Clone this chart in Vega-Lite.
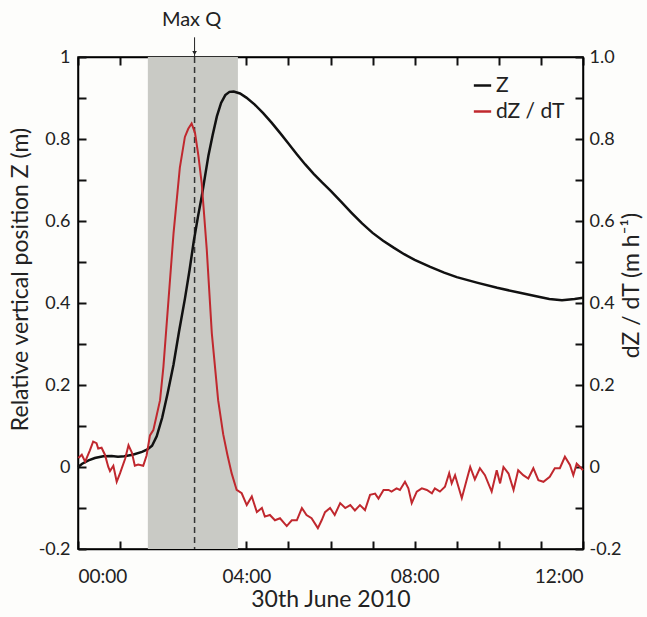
{
  "$schema": "https://vega.github.io/schema/vega-lite/v6.json",
  "width": 505,
  "height": 492,
  "autosize": "none",
  "padding": {"left": 78, "top": 57, "right": 64, "bottom": 68},
  "background": "#fdfdfb",
  "config": {
    "font": "Lato",
    "view": {"stroke": "black", "strokeWidth": 1.5},
    "axis": {
      "grid": false,
      "domainColor": "black",
      "domainWidth": 1.5,
      "labelFontSize": 18,
      "labelColor": "#222",
      "titleFontSize": 23,
      "titleFontWeight": "normal",
      "titleColor": "#222"
    }
  },
  "datasets": {
    "z": [
      {"t": 0, "v": 0.0, "s": "Z"},
      {"t": 0.1, "v": 0.008, "s": "Z"},
      {"t": 0.25, "v": 0.016, "s": "Z"},
      {"t": 0.4, "v": 0.022, "s": "Z"},
      {"t": 0.6, "v": 0.026, "s": "Z"},
      {"t": 0.8, "v": 0.027, "s": "Z"},
      {"t": 0.95, "v": 0.025, "s": "Z"},
      {"t": 1.1, "v": 0.026, "s": "Z"},
      {"t": 1.3, "v": 0.03, "s": "Z"},
      {"t": 1.52, "v": 0.037, "s": "Z"},
      {"t": 1.65, "v": 0.043, "s": "Z"},
      {"t": 1.76, "v": 0.052, "s": "Z"},
      {"t": 1.87, "v": 0.075, "s": "Z"},
      {"t": 2.0, "v": 0.12, "s": "Z"},
      {"t": 2.13, "v": 0.18, "s": "Z"},
      {"t": 2.27, "v": 0.25, "s": "Z"},
      {"t": 2.4, "v": 0.33, "s": "Z"},
      {"t": 2.54, "v": 0.41, "s": "Z"},
      {"t": 2.65, "v": 0.48, "s": "Z"},
      {"t": 2.75, "v": 0.55, "s": "Z"},
      {"t": 2.85, "v": 0.61, "s": "Z"},
      {"t": 2.94, "v": 0.66, "s": "Z"},
      {"t": 3.02, "v": 0.71, "s": "Z"},
      {"t": 3.1, "v": 0.76, "s": "Z"},
      {"t": 3.2, "v": 0.81, "s": "Z"},
      {"t": 3.3, "v": 0.855, "s": "Z"},
      {"t": 3.4, "v": 0.888, "s": "Z"},
      {"t": 3.5, "v": 0.907, "s": "Z"},
      {"t": 3.6, "v": 0.915, "s": "Z"},
      {"t": 3.7, "v": 0.916, "s": "Z"},
      {"t": 3.85, "v": 0.911, "s": "Z"},
      {"t": 4.0, "v": 0.901, "s": "Z"},
      {"t": 4.2, "v": 0.884, "s": "Z"},
      {"t": 4.4, "v": 0.863, "s": "Z"},
      {"t": 4.6, "v": 0.84, "s": "Z"},
      {"t": 4.8, "v": 0.815, "s": "Z"},
      {"t": 5.0, "v": 0.789, "s": "Z"},
      {"t": 5.2, "v": 0.763, "s": "Z"},
      {"t": 5.4, "v": 0.738, "s": "Z"},
      {"t": 5.6, "v": 0.715, "s": "Z"},
      {"t": 5.8, "v": 0.694, "s": "Z"},
      {"t": 6.0, "v": 0.674, "s": "Z"},
      {"t": 6.25, "v": 0.647, "s": "Z"},
      {"t": 6.5, "v": 0.62, "s": "Z"},
      {"t": 6.75, "v": 0.594, "s": "Z"},
      {"t": 7.0, "v": 0.571, "s": "Z"},
      {"t": 7.25, "v": 0.552, "s": "Z"},
      {"t": 7.5, "v": 0.535, "s": "Z"},
      {"t": 7.75, "v": 0.519, "s": "Z"},
      {"t": 8.0, "v": 0.505, "s": "Z"},
      {"t": 8.37, "v": 0.488, "s": "Z"},
      {"t": 8.7, "v": 0.474, "s": "Z"},
      {"t": 9.0, "v": 0.463, "s": "Z"},
      {"t": 9.5, "v": 0.449, "s": "Z"},
      {"t": 9.96, "v": 0.437, "s": "Z"},
      {"t": 10.5, "v": 0.425, "s": "Z"},
      {"t": 11.0, "v": 0.414, "s": "Z"},
      {"t": 11.2, "v": 0.41, "s": "Z"},
      {"t": 11.5, "v": 0.407, "s": "Z"},
      {"t": 11.8, "v": 0.41, "s": "Z"},
      {"t": 12.0, "v": 0.413, "s": "Z"}
    ],
    "d": [
      {"t": 0.01, "v": 0.022, "s": "dZ / dT"},
      {"t": 0.09, "v": 0.03, "s": "dZ / dT"},
      {"t": 0.17, "v": 0.013, "s": "dZ / dT"},
      {"t": 0.28, "v": 0.04, "s": "dZ / dT"},
      {"t": 0.36, "v": 0.062, "s": "dZ / dT"},
      {"t": 0.44, "v": 0.058, "s": "dZ / dT"},
      {"t": 0.48, "v": 0.045, "s": "dZ / dT"},
      {"t": 0.56, "v": 0.047, "s": "dZ / dT"},
      {"t": 0.64, "v": 0.03, "s": "dZ / dT"},
      {"t": 0.72, "v": 0.0, "s": "dZ / dT"},
      {"t": 0.76, "v": -0.01, "s": "dZ / dT"},
      {"t": 0.84, "v": 0.003, "s": "dZ / dT"},
      {"t": 0.92, "v": -0.036, "s": "dZ / dT"},
      {"t": 1.0, "v": -0.015, "s": "dZ / dT"},
      {"t": 1.12, "v": 0.02, "s": "dZ / dT"},
      {"t": 1.2, "v": 0.053, "s": "dZ / dT"},
      {"t": 1.28, "v": 0.035, "s": "dZ / dT"},
      {"t": 1.35, "v": 0.003, "s": "dZ / dT"},
      {"t": 1.43, "v": 0.006, "s": "dZ / dT"},
      {"t": 1.55, "v": 0.003, "s": "dZ / dT"},
      {"t": 1.63, "v": 0.028, "s": "dZ / dT"},
      {"t": 1.71, "v": 0.077, "s": "dZ / dT"},
      {"t": 1.79, "v": 0.09, "s": "dZ / dT"},
      {"t": 1.87, "v": 0.126, "s": "dZ / dT"},
      {"t": 1.95, "v": 0.163, "s": "dZ / dT"},
      {"t": 2.03, "v": 0.245, "s": "dZ / dT"},
      {"t": 2.15, "v": 0.407, "s": "dZ / dT"},
      {"t": 2.27, "v": 0.57, "s": "dZ / dT"},
      {"t": 2.42, "v": 0.73, "s": "dZ / dT"},
      {"t": 2.54, "v": 0.805, "s": "dZ / dT"},
      {"t": 2.62, "v": 0.825, "s": "dZ / dT"},
      {"t": 2.7, "v": 0.838, "s": "dZ / dT"},
      {"t": 2.78, "v": 0.815, "s": "dZ / dT"},
      {"t": 2.86, "v": 0.76, "s": "dZ / dT"},
      {"t": 2.94, "v": 0.692, "s": "dZ / dT"},
      {"t": 3.06, "v": 0.53, "s": "dZ / dT"},
      {"t": 3.18, "v": 0.326, "s": "dZ / dT"},
      {"t": 3.33, "v": 0.163, "s": "dZ / dT"},
      {"t": 3.45, "v": 0.08, "s": "dZ / dT"},
      {"t": 3.55, "v": 0.03, "s": "dZ / dT"},
      {"t": 3.65, "v": -0.015, "s": "dZ / dT"},
      {"t": 3.77, "v": -0.056, "s": "dZ / dT"},
      {"t": 3.89, "v": -0.064, "s": "dZ / dT"},
      {"t": 4.01, "v": -0.093, "s": "dZ / dT"},
      {"t": 4.13, "v": -0.072, "s": "dZ / dT"},
      {"t": 4.25, "v": -0.11, "s": "dZ / dT"},
      {"t": 4.37, "v": -0.1, "s": "dZ / dT"},
      {"t": 4.44, "v": -0.121, "s": "dZ / dT"},
      {"t": 4.56, "v": -0.117, "s": "dZ / dT"},
      {"t": 4.68, "v": -0.13, "s": "dZ / dT"},
      {"t": 4.8, "v": -0.125, "s": "dZ / dT"},
      {"t": 4.96, "v": -0.144, "s": "dZ / dT"},
      {"t": 5.08, "v": -0.13, "s": "dZ / dT"},
      {"t": 5.2, "v": -0.13, "s": "dZ / dT"},
      {"t": 5.32, "v": -0.1, "s": "dZ / dT"},
      {"t": 5.43, "v": -0.117, "s": "dZ / dT"},
      {"t": 5.55, "v": -0.125, "s": "dZ / dT"},
      {"t": 5.7, "v": -0.149, "s": "dZ / dT"},
      {"t": 5.79, "v": -0.13, "s": "dZ / dT"},
      {"t": 5.87, "v": -0.11, "s": "dZ / dT"},
      {"t": 5.99, "v": -0.1, "s": "dZ / dT"},
      {"t": 6.1, "v": -0.117, "s": "dZ / dT"},
      {"t": 6.23, "v": -0.088, "s": "dZ / dT"},
      {"t": 6.35, "v": -0.1, "s": "dZ / dT"},
      {"t": 6.47, "v": -0.093, "s": "dZ / dT"},
      {"t": 6.58, "v": -0.106, "s": "dZ / dT"},
      {"t": 6.7, "v": -0.093, "s": "dZ / dT"},
      {"t": 6.82, "v": -0.105, "s": "dZ / dT"},
      {"t": 6.94, "v": -0.068, "s": "dZ / dT"},
      {"t": 7.06, "v": -0.065, "s": "dZ / dT"},
      {"t": 7.14, "v": -0.077, "s": "dZ / dT"},
      {"t": 7.26, "v": -0.056, "s": "dZ / dT"},
      {"t": 7.38, "v": -0.056, "s": "dZ / dT"},
      {"t": 7.45, "v": -0.06, "s": "dZ / dT"},
      {"t": 7.57, "v": -0.052, "s": "dZ / dT"},
      {"t": 7.65, "v": -0.056, "s": "dZ / dT"},
      {"t": 7.77, "v": -0.036, "s": "dZ / dT"},
      {"t": 7.85, "v": -0.052, "s": "dZ / dT"},
      {"t": 7.93, "v": -0.088, "s": "dZ / dT"},
      {"t": 8.05, "v": -0.06, "s": "dZ / dT"},
      {"t": 8.17, "v": -0.052, "s": "dZ / dT"},
      {"t": 8.29, "v": -0.056, "s": "dZ / dT"},
      {"t": 8.41, "v": -0.064, "s": "dZ / dT"},
      {"t": 8.48, "v": -0.052, "s": "dZ / dT"},
      {"t": 8.6, "v": -0.06, "s": "dZ / dT"},
      {"t": 8.72, "v": -0.048, "s": "dZ / dT"},
      {"t": 8.82, "v": -0.015, "s": "dZ / dT"},
      {"t": 8.88, "v": -0.04, "s": "dZ / dT"},
      {"t": 8.96, "v": -0.02, "s": "dZ / dT"},
      {"t": 9.04, "v": -0.048, "s": "dZ / dT"},
      {"t": 9.12, "v": -0.076, "s": "dZ / dT"},
      {"t": 9.24, "v": -0.03, "s": "dZ / dT"},
      {"t": 9.32, "v": 0.0, "s": "dZ / dT"},
      {"t": 9.43, "v": -0.03, "s": "dZ / dT"},
      {"t": 9.55, "v": -0.003, "s": "dZ / dT"},
      {"t": 9.67, "v": -0.02, "s": "dZ / dT"},
      {"t": 9.83, "v": -0.06, "s": "dZ / dT"},
      {"t": 9.95, "v": -0.008, "s": "dZ / dT"},
      {"t": 10.03, "v": -0.04, "s": "dZ / dT"},
      {"t": 10.11, "v": 0.0, "s": "dZ / dT"},
      {"t": 10.23, "v": -0.016, "s": "dZ / dT"},
      {"t": 10.35, "v": -0.056, "s": "dZ / dT"},
      {"t": 10.46, "v": -0.008, "s": "dZ / dT"},
      {"t": 10.58, "v": -0.02, "s": "dZ / dT"},
      {"t": 10.7, "v": -0.028, "s": "dZ / dT"},
      {"t": 10.82, "v": -0.003, "s": "dZ / dT"},
      {"t": 10.94, "v": -0.032, "s": "dZ / dT"},
      {"t": 11.06, "v": -0.036, "s": "dZ / dT"},
      {"t": 11.21, "v": -0.024, "s": "dZ / dT"},
      {"t": 11.33, "v": -0.003, "s": "dZ / dT"},
      {"t": 11.45, "v": -0.003, "s": "dZ / dT"},
      {"t": 11.57, "v": 0.025, "s": "dZ / dT"},
      {"t": 11.69, "v": 0.005, "s": "dZ / dT"},
      {"t": 11.77, "v": -0.02, "s": "dZ / dT"},
      {"t": 11.85, "v": 0.008, "s": "dZ / dT"},
      {"t": 11.93, "v": 0.0, "s": "dZ / dT"},
      {"t": 12.0, "v": -0.008, "s": "dZ / dT"}
    ],
    "maxq": [{"q": 2.77, "top": 1.048, "bot": 1.0, "label": "Max Q"}]
  },
  "layer": [
    {
      "data": {"values": [{"start": 1.66, "end": 3.8}]},
      "mark": {"type": "rect", "color": "#c9cac5"},
      "encoding": {
        "x": {"field": "start", "type": "quantitative", "scale": {"domain": [0, 12], "nice": false}, "axis": null},
        "x2": {"field": "end"}
      }
    },
    {
      "data": {"name": "maxq"},
      "mark": {"type": "rule", "color": "#333", "strokeWidth": 1.5, "strokeDash": [6, 4]},
      "encoding": {
        "x": {"field": "q", "type": "quantitative", "axis": null}
      }
    },
    {
      "data": {"name": "z"},
      "mark": {"type": "line", "strokeWidth": 2.5},
      "encoding": {
        "x": {
          "field": "t", "type": "quantitative",
          "axis": {
            "orient": "bottom",
            "values": [0, 1, 2, 3, 4, 5, 6, 7, 8, 9, 10, 11, 12],
            "labelExpr": "datum.value % 4 === 0 ? (datum.value < 10 ? '0' : '') + datum.value + ':00' : ''",
            "labelFontSize": 19,
            "ticks": true,
            "tickSize": -8,
            "tickColor": "#111",
            "tickWidth": 2,
            "labelPadding": 26,
            "title": "30th June 2010",
            "titlePadding": 2,
            "titleFontSize": 23
          }
        },
        "y": {
          "field": "v", "type": "quantitative",
          "scale": {"domain": [-0.2, 1], "nice": false, "zero": false},
          "axis": {
            "orient": "left",
            "values": [-0.2, -0.1, 0, 0.1, 0.2, 0.3, 0.4, 0.5, 0.6, 0.7, 0.8, 0.9, 1],
            "labelExpr": "round(datum.value*10) % 2 === 0 ? (datum.value === 0 ? '0' : datum.value === 1 ? '1' : replace(format(datum.value, '.1f'), '−', '-')) : ''",
            "ticks": true,
            "tickSize": -8,
            "tickColor": "#111",
            "tickWidth": 2,
            "labelPadding": 16,
            "title": "Relative vertical position Z (m)",
            "titlePadding": 6,
            "titleY": 222
          }
        },
        "color": {
          "field": "s", "type": "nominal",
          "scale": {"domain": ["Z", "dZ / dT"], "range": ["#111111", "#c0282e"]},
          "legend": {
            "title": null,
            "orient": "none",
            "legendX": 394,
            "legendY": 18,
            "symbolType": "stroke",
            "symbolStrokeWidth": 2.5,
            "symbolSize": 300,
            "labelFontSize": 21,
            "labelColor": "#222",
            "rowPadding": 4,
            "labelOffset": 3
          }
        }
      }
    },
    {
      "data": {"name": "d"},
      "mark": {"type": "line", "strokeWidth": 2},
      "encoding": {
        "x": {
          "field": "t", "type": "quantitative",
          "axis": {"orient": "top", "values": [0, 1, 2, 3, 4, 5, 6, 7, 8, 9, 10, 11, 12], "labels": false, "ticks": true, "tickSize": -8, "tickColor": "#111", "tickWidth": 2, "title": null}
        },
        "y": {
          "field": "v", "type": "quantitative",
          "axis": {
            "orient": "right",
            "values": [-0.2, -0.1, 0, 0.1, 0.2, 0.3, 0.4, 0.5, 0.6, 0.7, 0.8, 0.9, 1],
            "labelExpr": "round(datum.value*10) % 2 === 0 ? (datum.value === 0 ? '0' : replace(format(datum.value, '.1f'), '−', '-')) : ''",
            "ticks": true,
            "tickSize": -8,
            "tickColor": "#111",
            "tickWidth": 2,
            "labelPadding": 14,
            "title": "dZ / dT (m h⁻¹)",
            "titleAngle": 270,
            "titleBaseline": "top",
            "titlePadding": 0,
            "titleY": 228
          }
        },
        "color": {"field": "s", "type": "nominal"}
      }
    },
    {
      "data": {"name": "maxq"},
      "mark": {"type": "rule", "color": "#222", "strokeWidth": 1},
      "encoding": {
        "x": {"field": "q", "type": "quantitative", "axis": null},
        "y": {"field": "top", "type": "quantitative", "axis": null},
        "y2": {"field": "bot"}
      }
    },
    {
      "data": {"name": "maxq"},
      "mark": {"type": "point", "shape": "triangle-down", "filled": true, "color": "#222", "size": 22, "opacity": 1, "yOffset": -4},
      "encoding": {
        "x": {"field": "q", "type": "quantitative", "axis": null},
        "y": {"field": "bot", "type": "quantitative", "axis": null}
      }
    },
    {
      "data": {"name": "maxq"},
      "mark": {"type": "text", "fontSize": 20, "baseline": "bottom", "align": "center", "dy": -27, "dx": -3, "color": "#222"},
      "encoding": {
        "x": {"field": "q", "type": "quantitative", "axis": null},
        "y": {"field": "bot", "type": "quantitative", "axis": null},
        "text": {"field": "label"}
      }
    }
  ],
  "resolve": {"axis": {"x": "independent", "y": "independent"}}
}
